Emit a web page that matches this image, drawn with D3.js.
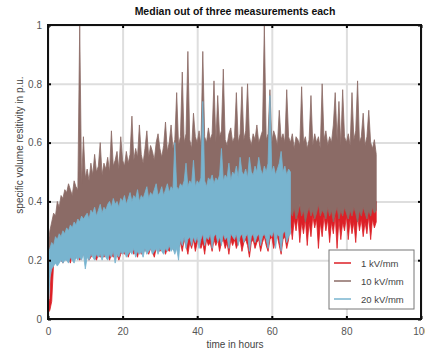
<!DOCTYPE html>
<html>
<head>
<meta charset="utf-8">
<script src="https://cdn.jsdelivr.net/npm/d3@7"></script>
<style>
  body { margin: 0; background: #fff; }
  svg { display: block; font-family: "Liberation Sans", Arial, sans-serif; }
</style>
</head>
<body>
<div class="visualization"></div>
<script>
(function(){

  // hours between two samples of every series
  var stepHours = 0.5;

  var seriesNames = ['1 kV/mm', '10 kV/mm', '20 kV/mm'];
  var seriesColors = ['#dc1f26', '#8b6b66', '#78b4cf'];

  var xTicks = [0, 20, 40, 60, 80, 100];
  var yTicks = [0, 0.2, 0.4, 0.6, 0.8, 1];
  var yTickLabels = ['0', '0.2', '0.4', '0.6', '0.8', '1'];

  // 1 kV/mm, lower and upper swing of the noisy trace, 0 .. 88 h
  var lo1 = [
    0.02, 0.03, 0.06, 0.19, 0.20, 0.19, 0.21, 0.20, 0.19, 0.21,
    0.20, 0.21, 0.19, 0.22, 0.20, 0.21, 0.22, 0.20, 0.21, 0.22,
    0.21, 0.22, 0.20, 0.21, 0.22, 0.21, 0.20, 0.22, 0.21, 0.22,
    0.21, 0.22, 0.23, 0.20, 0.22, 0.21, 0.23, 0.22, 0.20, 0.22,
    0.23, 0.22, 0.24, 0.21, 0.23, 0.24, 0.22, 0.23, 0.21, 0.24,
    0.22, 0.24, 0.23, 0.25, 0.22, 0.24, 0.23, 0.21, 0.24, 0.25,
    0.23, 0.24, 0.25, 0.22, 0.24, 0.23, 0.25, 0.24, 0.23, 0.25,
    0.24, 0.26, 0.23, 0.27, 0.25, 0.22, 0.26, 0.24, 0.27, 0.23,
    0.26, 0.27, 0.24, 0.26, 0.22, 0.27, 0.25, 0.26, 0.23, 0.27,
    0.25, 0.27, 0.23, 0.26, 0.27, 0.24, 0.26, 0.22, 0.27, 0.25,
    0.27, 0.24, 0.26, 0.27, 0.23, 0.26, 0.27, 0.25, 0.21, 0.26,
    0.27, 0.24, 0.26, 0.27, 0.23, 0.26, 0.28, 0.25, 0.23, 0.27,
    0.28, 0.24, 0.27, 0.28, 0.25, 0.22, 0.27, 0.28, 0.24, 0.27,
    0.33, 0.27, 0.34, 0.30, 0.35, 0.26, 0.33, 0.29, 0.34, 0.25,
    0.33, 0.28, 0.35, 0.31, 0.34, 0.24, 0.33, 0.28, 0.35, 0.30,
    0.34, 0.26, 0.33, 0.29, 0.35, 0.24, 0.34, 0.27, 0.33, 0.30,
    0.35, 0.27, 0.34, 0.29, 0.33, 0.26, 0.35, 0.30, 0.34, 0.28,
    0.33, 0.29, 0.35, 0.27, 0.34, 0.31, 0.33
  ];
  var hi1 = [
    0.05, 0.07, 0.22, 0.24, 0.23, 0.25, 0.24, 0.25, 0.24, 0.26,
    0.25, 0.26, 0.25, 0.27, 0.26, 0.25, 0.27, 0.26, 0.27, 0.26,
    0.27, 0.26, 0.28, 0.27, 0.26, 0.28, 0.27, 0.28, 0.27, 0.29,
    0.28, 0.27, 0.29, 0.28, 0.27, 0.29, 0.28, 0.30, 0.28, 0.29,
    0.29, 0.30, 0.28, 0.30, 0.29, 0.31, 0.29, 0.30, 0.31, 0.29,
    0.30, 0.31, 0.29, 0.31, 0.30, 0.32, 0.30, 0.31, 0.32, 0.30,
    0.31, 0.32, 0.30, 0.32, 0.31, 0.33, 0.31, 0.32, 0.33, 0.31,
    0.32, 0.33, 0.31, 0.33, 0.32, 0.34, 0.32, 0.33, 0.32, 0.34,
    0.33, 0.32, 0.34, 0.33, 0.35, 0.33, 0.34, 0.32, 0.34, 0.33,
    0.34, 0.33, 0.35, 0.34, 0.33, 0.35, 0.34, 0.36, 0.34, 0.35,
    0.34, 0.35, 0.33, 0.35, 0.34, 0.36, 0.35, 0.34, 0.36, 0.35,
    0.35, 0.36, 0.34, 0.36, 0.35, 0.37, 0.35, 0.36, 0.34, 0.36,
    0.36, 0.35, 0.37, 0.36, 0.35, 0.37, 0.36, 0.38, 0.36, 0.37,
    0.38, 0.40, 0.37, 0.41, 0.39, 0.38, 0.42, 0.39, 0.40, 0.38,
    0.41, 0.39, 0.42, 0.38, 0.40, 0.43, 0.39, 0.41, 0.38, 0.42,
    0.40, 0.38, 0.43, 0.39, 0.41, 0.40, 0.42, 0.38, 0.41, 0.43,
    0.39, 0.42, 0.40, 0.38, 0.43, 0.41, 0.39, 0.42, 0.40, 0.41,
    0.42, 0.39, 0.41, 0.40, 0.42, 0.38, 0.40
  ];

  // 10 kV/mm, 0 .. 88 h
  var lo10 = [
    0.20, 0.22, 0.24, 0.25, 0.26, 0.27, 0.28, 0.27, 0.29, 0.28,
    0.30, 0.29, 0.31, 0.30, 0.31, 0.32, 0.31, 0.32, 0.33, 0.32,
    0.32, 0.33, 0.32, 0.34, 0.33, 0.32, 0.34, 0.33, 0.34, 0.33,
    0.35, 0.34, 0.33, 0.35, 0.34, 0.36, 0.35, 0.34, 0.36, 0.35,
    0.35, 0.36, 0.35, 0.37, 0.36, 0.35, 0.37, 0.36, 0.37, 0.36,
    0.36, 0.37, 0.38, 0.36, 0.37, 0.38, 0.37, 0.38, 0.37, 0.39,
    0.38, 0.37, 0.39, 0.38, 0.39, 0.38, 0.40, 0.39, 0.38, 0.39,
    0.40, 0.39, 0.40, 0.41, 0.39, 0.40, 0.41, 0.40, 0.39, 0.41,
    0.40, 0.41, 0.40, 0.42, 0.41, 0.40, 0.42, 0.41, 0.40, 0.42,
    0.41, 0.40, 0.42, 0.41, 0.42, 0.40, 0.41, 0.42, 0.41, 0.40,
    0.42, 0.41, 0.40, 0.42, 0.41, 0.42, 0.40, 0.41, 0.42, 0.41,
    0.40, 0.42, 0.41, 0.40, 0.42, 0.41, 0.40, 0.42, 0.41, 0.40,
    0.41, 0.42, 0.40, 0.41, 0.42, 0.40, 0.41, 0.40, 0.42, 0.41,
    0.37, 0.35, 0.38, 0.34, 0.36, 0.39, 0.35, 0.37, 0.33, 0.36,
    0.38, 0.35, 0.37, 0.34, 0.36, 0.39, 0.35, 0.37, 0.36, 0.34,
    0.38, 0.35, 0.37, 0.33, 0.36, 0.38, 0.34, 0.37, 0.35, 0.38,
    0.36, 0.34, 0.37, 0.35, 0.38, 0.36, 0.33, 0.37, 0.35, 0.38,
    0.36, 0.34, 0.37, 0.35, 0.38, 0.36, 0.37
  ];
  var hi10 = [
    0.25, 0.30, 0.33, 0.36, 0.35, 0.40, 0.38, 0.42, 0.41, 0.44,
    0.43, 0.46, 0.44, 0.42, 0.47, 0.45, 0.44, 1.00, 0.46, 0.62,
    0.48, 0.51, 0.47, 0.53, 0.49, 0.56, 0.50, 0.52, 0.60, 0.49,
    0.53, 0.51, 0.55, 0.50, 0.64, 0.52, 0.54, 0.57, 0.51, 0.62,
    0.54, 0.52, 0.57, 0.53, 0.56, 0.69, 0.54, 0.58, 0.55, 0.66,
    0.56, 0.53, 0.58, 0.64, 0.55, 0.59, 0.57, 0.54, 0.60, 0.63,
    0.58, 0.55, 0.59, 0.67, 0.57, 0.60, 0.66, 0.58, 0.61, 0.77,
    0.59, 0.62, 0.84, 0.60, 0.63, 0.91, 0.61, 0.58, 0.70, 0.62,
    0.60, 0.64, 0.59, 0.91, 0.62, 0.60, 0.65, 0.61, 0.63, 0.81,
    0.60, 0.76, 0.62, 0.64, 0.85, 0.61, 0.59, 0.63, 0.65, 0.60,
    0.62, 0.77, 0.60, 0.63, 0.79, 0.61, 0.64, 0.80, 0.62, 0.59,
    0.63, 0.61, 0.66, 0.60, 0.62, 0.64, 1.00, 0.61, 0.63, 0.78,
    0.60, 0.64, 0.62, 0.59, 0.71, 0.61, 0.63, 0.60, 0.78, 0.62,
    0.60, 0.63, 0.58, 0.62, 0.61, 0.59, 0.79, 0.60, 0.62, 0.58,
    0.61, 0.76, 0.59, 0.63, 0.60, 0.62, 0.58, 0.80, 0.61, 0.64,
    0.59, 0.62, 0.60, 0.66, 0.77, 0.61, 0.74, 0.59, 0.78, 0.62,
    0.60, 0.63, 0.59, 0.77, 0.61, 0.64, 0.81, 0.60, 0.62, 0.70,
    0.59, 0.62, 0.71, 0.60, 0.58, 0.61, 0.56
  ];

  // 20 kV/mm, 0 .. 65 h
  var lo20 = [
    0.02, 0.14, 0.17, 0.18, 0.19, 0.18, 0.19, 0.20, 0.19, 0.20,
    0.20, 0.19, 0.21, 0.20, 0.19, 0.21, 0.20, 0.21, 0.20, 0.22,
    0.17, 0.21, 0.20, 0.22, 0.21, 0.20, 0.22, 0.21, 0.22, 0.20,
    0.22, 0.21, 0.20, 0.22, 0.21, 0.23, 0.19, 0.22, 0.21, 0.23,
    0.22, 0.23, 0.21, 0.22, 0.23, 0.22, 0.24, 0.21, 0.23, 0.22,
    0.23, 0.21, 0.24, 0.22, 0.23, 0.24, 0.22, 0.23, 0.24, 0.22,
    0.24, 0.23, 0.22, 0.24, 0.23, 0.25, 0.23, 0.24, 0.22, 0.24,
    0.20, 0.27, 0.25, 0.28, 0.24, 0.27, 0.28, 0.25, 0.28, 0.26,
    0.28, 0.24, 0.27, 0.29, 0.25, 0.28, 0.27, 0.29, 0.24, 0.28,
    0.29, 0.26, 0.28, 0.25, 0.29, 0.27, 0.28, 0.24, 0.29, 0.28,
    0.27, 0.29, 0.25, 0.28, 0.29, 0.26, 0.28, 0.29, 0.23, 0.28,
    0.29, 0.26, 0.28, 0.29, 0.25, 0.28, 0.29, 0.27, 0.24, 0.29,
    0.28, 0.30, 0.24, 0.29, 0.28, 0.23, 0.29, 0.30, 0.26, 0.28,
    0.29
  ];
  var hi20 = [
    0.22, 0.24, 0.26, 0.25, 0.28, 0.27, 0.29, 0.28, 0.30, 0.29,
    0.31, 0.30, 0.32, 0.31, 0.33, 0.32, 0.34, 0.33, 0.35, 0.34,
    0.35, 0.36, 0.34, 0.37, 0.36, 0.38, 0.35, 0.37, 0.39, 0.36,
    0.38, 0.37, 0.39, 0.40, 0.38, 0.41, 0.39, 0.40, 0.38, 0.41,
    0.40, 0.42, 0.39, 0.41, 0.43, 0.40, 0.42, 0.41, 0.44, 0.40,
    0.42, 0.41, 0.43, 0.45, 0.41, 0.43, 0.42, 0.44, 0.46, 0.42,
    0.43, 0.45, 0.42, 0.44, 0.46, 0.43, 0.45, 0.44, 0.60, 0.45,
    0.44, 0.46, 0.45, 0.47, 0.53, 0.45, 0.47, 0.46, 0.54, 0.45,
    0.47, 0.46, 0.48, 0.74, 0.47, 0.45, 0.48, 0.47, 0.49, 0.46,
    0.48, 0.47, 0.49, 0.58, 0.47, 0.49, 0.48, 0.53, 0.47, 0.50,
    0.49, 0.52, 0.48, 0.55, 0.50, 0.49, 0.51, 0.48, 0.55, 0.50,
    0.49, 0.52, 0.50, 0.55, 0.51, 0.49, 0.52, 0.50, 0.53, 0.76,
    0.50, 0.52, 0.49, 0.51, 0.53, 0.57, 0.50, 0.52, 0.49, 0.51,
    0.50
  ];

  var series = [
    { lo: lo1, hi: hi1 },
    { lo: lo10, hi: hi10 },
    { lo: lo20, hi: hi20 }
  ];

  var width = 425,
    height = 351,
    plot = { left: 48, right: 421, top: 25, bottom: 319 };

  var svg = d3.select('.visualization')
    .append('svg')
    .attr('width', width)
    .attr('height', height);

  var x = d3.scaleLinear().domain([0, 100]).range([plot.left, plot.right]);
  var y = d3.scaleLinear().domain([0, 1]).range([plot.bottom, plot.top]);

  svg.append('defs').append('clipPath').attr('id', 'plot-clip')
    .append('rect')
    .attr('x', plot.left).attr('y', plot.top)
    .attr('width', plot.right - plot.left)
    .attr('height', plot.bottom - plot.top);

  // grid
  var grid = svg.append('g').attr('class', 'grid');
  grid.append('g')
    .attr('transform', 'translate(0,' + plot.bottom + ')')
    .call(d3.axisBottom(x).tickValues(xTicks).tickSize(-(plot.bottom - plot.top)).tickFormat(''));
  grid.append('g')
    .attr('transform', 'translate(' + plot.left + ',0)')
    .call(d3.axisLeft(y).tickValues(yTicks).tickSize(-(plot.right - plot.left)).tickFormat(''));
  grid.selectAll('.domain').remove();
  grid.selectAll('line').attr('stroke', '#dedede').attr('stroke-width', 2);

  // each trace swings fast between its low and high values, so it reads as a band
  var band = function(s){
    return d3.area()
      .x(function(d, i){ return x(i * stepHours); })
      .y0(function(d, i){ return y(s.lo[i]); })
      .y1(function(d){ return y(d); })(s.hi);
  };

  svg.append('g')
    .attr('clip-path', 'url(#plot-clip)')
    .selectAll('path')
    .data(series)
    .enter().append('path')
    .attr('d', band)
    .attr('fill', function(d, i){ return seriesColors[i]; })
    .attr('stroke', function(d, i){ return seriesColors[i]; })
    .attr('stroke-width', 0.8)
    .attr('stroke-linejoin', 'round');

  // axes with ticks on all four sides
  var tickLen = 3;
  var axisStyle = function(g){
    g.select('.domain').remove();
    g.selectAll('.tick line').attr('stroke', '#000').attr('stroke-width', 2);
    g.selectAll('text').attr('fill', '#555').style('font-size', '10px');
  };

  svg.append('g')
    .attr('transform', 'translate(0,' + plot.bottom + ')')
    .call(d3.axisBottom(x).tickValues(xTicks).tickSize(-tickLen).tickPadding(9))
    .call(axisStyle);
  svg.append('g')
    .attr('transform', 'translate(0,' + plot.top + ')')
    .call(d3.axisTop(x).tickValues(xTicks).tickSize(-tickLen).tickFormat(''))
    .call(axisStyle);
  svg.append('g')
    .attr('transform', 'translate(' + plot.left + ',0)')
    .call(d3.axisLeft(y).tickValues(yTicks).tickSize(-tickLen).tickPadding(6)
      .tickFormat(function(d, i){ return yTickLabels[i]; }))
    .call(axisStyle);
  svg.append('g')
    .attr('transform', 'translate(' + plot.right + ',0)')
    .call(d3.axisRight(y).tickValues(yTicks).tickSize(-tickLen).tickFormat(''))
    .call(axisStyle);

  svg.append('rect')
    .attr('x', plot.left).attr('y', plot.top)
    .attr('width', plot.right - plot.left)
    .attr('height', plot.bottom - plot.top)
    .attr('fill', 'none')
    .attr('stroke', '#111')
    .attr('stroke-width', 2);

  // title and labels
  svg.append('text')
    .attr('x', 235).attr('y', 15)
    .attr('text-anchor', 'middle')
    .style('font-size', '10.5px')
    .style('font-weight', 'bold')
    .attr('fill', '#111')
    .text('Median out of three measurements each');

  svg.append('text')
    .attr('x', 235).attr('y', 348)
    .attr('text-anchor', 'middle')
    .style('font-size', '10px')
    .attr('fill', '#444')
    .text('time in hours');

  svg.append('text')
    .attr('transform', 'translate(23,145) rotate(-90)')
    .attr('text-anchor', 'middle')
    .style('font-size', '10px')
    .attr('fill', '#444')
    .text('specific volume resitivity in p.u.');

  // legend
  var legend = svg.append('g').attr('transform', 'translate(329,250)');
  legend.append('rect')
    .attr('width', 85).attr('height', 59)
    .attr('fill', '#fff')
    .attr('stroke', '#777')
    .attr('stroke-width', 1);

  var rows = legend.selectAll('g.row')
    .data(seriesNames)
    .enter().append('g')
    .attr('class', 'row')
    .attr('transform', function(d, i){ return 'translate(0,' + (13 + i * 18) + ')'; });

  rows.append('line')
    .attr('x1', 5).attr('x2', 22)
    .attr('stroke', function(d, i){ return seriesColors[i]; })
    .attr('stroke-width', 1.5);

  rows.append('text')
    .attr('x', 32).attr('y', 3.5)
    .style('font-size', '9.5px')
    .attr('fill', '#444')
    .text(function(d){ return d; });

}());
</script>
</body>
</html>
